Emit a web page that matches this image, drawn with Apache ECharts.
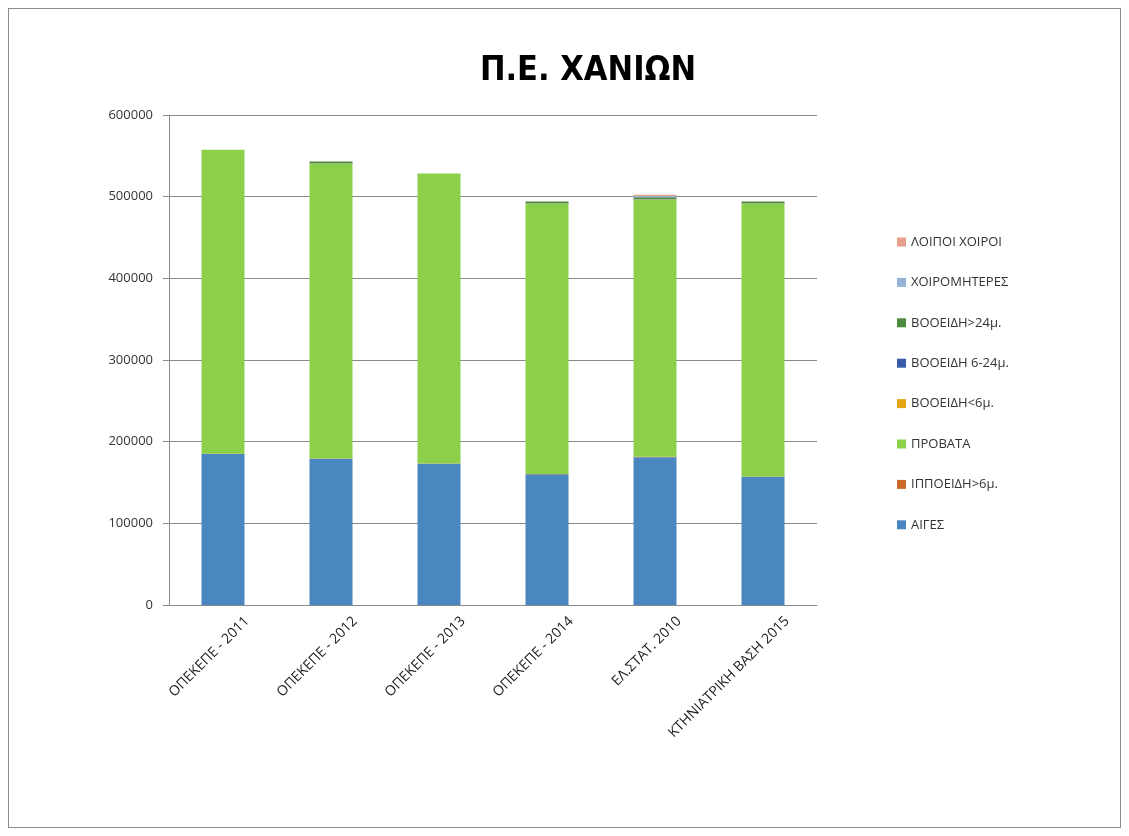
<!DOCTYPE html>
<html>
<head>
<meta charset="utf-8">
<script src="https://cdn.jsdelivr.net/npm/echarts@6/dist/echarts.min.js"></script>
<style>
  html, body { margin: 0; padding: 0; background: #fff; }
  #main { position: absolute; left: 8px; top: 8px; width: 1111px; height: 818px; border: 1px solid #8c8c8c; }
</style>
</head>
<body>
<div id="main"></div>
<script>
var categories = ['ΟΠΕΚΕΠΕ - 2011', 'ΟΠΕΚΕΠΕ - 2012', 'ΟΠΕΚΕΠΕ - 2013', 'ΟΠΕΚΕΠΕ - 2014', 'ΕΛ.ΣΤΑΤ. 2010', 'ΚΤΗΝΙΑΤΡΙΚΗ ΒΑΣΗ 2015'];
var aiges = [185000, 179000, 173000, 160000, 181000, 157000];
var ippoeidi = [300, 300, 300, 300, 400, 300];
var provata = [372000, 361000, 355000, 331000, 315000, 334000];
var vooeidiUnder6 = [0, 300, 0, 300, 300, 300];
var vooeidi6to24 = [0, 400, 0, 400, 400, 400];
var vooeidiOver24 = [0, 2000, 0, 2200, 2200, 2000];
var xoiromiteres = [0, 0, 0, 0, 1500, 0];
var loipoiXoiroi = [0, 0, 0, 0, 1500, 0];
var yTicks = [0, 100000, 200000, 300000, 400000, 500000, 600000];

var seriesDefs = [
  ['ΑΙΓΕΣ', aiges, '#4a86c0'],
  ['ΙΠΠΟΕΙΔΗ>6μ.', ippoeidi, '#cc6a2c'],
  ['ΠΡΟΒΑΤΑ', provata, '#8ccf48'],
  ['ΒΟΟΕΙΔΗ<6μ.', vooeidiUnder6, '#e3a516'],
  ['ΒΟΟΕΙΔΗ 6-24μ.', vooeidi6to24, '#3a5ba8'],
  ['ΒΟΟΕΙΔΗ>24μ.', vooeidiOver24, '#4e8b3e'],
  ['ΧΟΙΡΟΜΗΤΕΡΕΣ', xoiromiteres, '#95b3d7'],
  ['ΛΟΙΠΟΙ ΧΟΙΡΟΙ', loipoiXoiroi, '#e8a08e']
];

var myChart = echarts.init(document.getElementById('main'));
var series = seriesDefs.map(function (d) {
  return {
    name: d[0],
    type: 'bar',
    stack: 'total',
    barWidth: 43,
    itemStyle: { color: d[2] },
    data: d[1]
  };
});

var option = {
  animation: false,
  title: {
    text: 'Π.Ε. ΧΑΝΙΩΝ',
    left: 574,
    top: 40,
    textAlign: 'center',
    textStyle: { fontFamily: 'DejaVu Sans Condensed, Liberation Sans Narrow, sans-serif', fontSize: 34, fontWeight: 'bold', color: '#000' }
  },
  legend: {
    orient: 'vertical',
    left: 883,
    top: 219,
    itemWidth: 9,
    itemHeight: 9,
    itemGap: 22.4,
    icon: 'rect',
    data: seriesDefs.map(function (d) { return d[0]; }).reverse(),
    textStyle: { fontFamily: 'Open Sans, sans-serif', fontSize: 13, color: '#333', lineHeight: 18 }
  },
  grid: { left: 160, right: 303, top: 106, bottom: 222 },
  xAxis: {
    type: 'category',
    data: categories,
    axisLine: { lineStyle: { color: '#8a8a8a' } },
    axisTick: { alignWithLabel: false, length: 6, lineStyle: { color: '#8a8a8a' } },
    axisLabel: {
      rotate: 45,
      margin: 38,
      padding: [0, -34, 0, 0],
      fontFamily: 'Open Sans, sans-serif',
      fontSize: 14,
      color: '#222'
    }
  },
  yAxis: {
    type: 'value',
    min: yTicks[0],
    max: yTicks[yTicks.length - 1],
    interval: 100000,
    axisLine: { show: true, lineStyle: { color: '#8a8a8a' } },
    axisTick: { show: true, length: 6, lineStyle: { color: '#8a8a8a' } },
    axisLabel: {
      margin: 16,
      fontFamily: 'Open Sans, sans-serif',
      fontSize: 13,
      color: '#333',
      formatter: function (v) { return String(v); }
    },
    splitLine: { lineStyle: { color: '#8a8a8a' } }
  },
  series: series
};

myChart.setOption(option);
</script>
</body>
</html>
